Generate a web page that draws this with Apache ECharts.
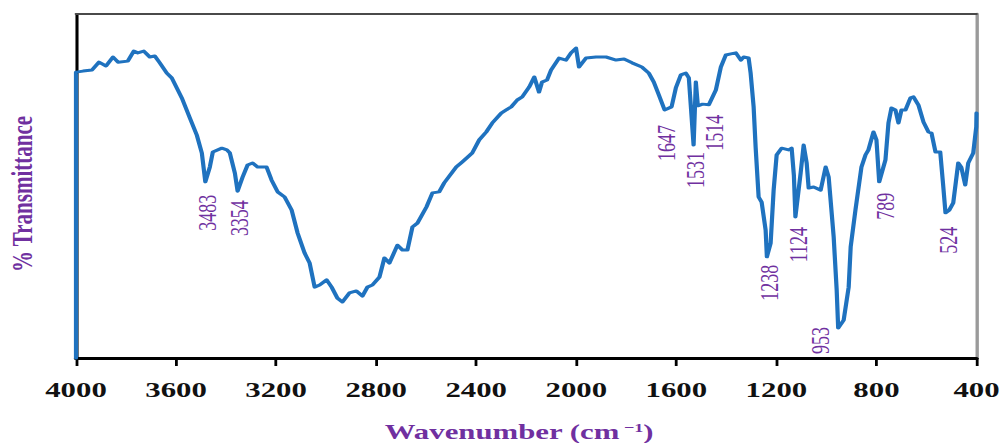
<!DOCTYPE html>
<html>
<head>
<meta charset="utf-8">
<title>FTIR spectrum</title>
<script src="https://cdn.jsdelivr.net/npm/echarts/dist/echarts.min.js"></script>
<style>
  html, body { margin: 0; padding: 0; background: #fff; overflow: hidden; }
  #chart { height: 443px; transform-origin: 0 0; }
</style>
</head>
<body>
<div id="chart"></div>
<script>
// FTIR spectrum: wavenumber (cm-1) against relative transmittance (%)
const wavenumber = [
  4000, 4000, 3972, 3936, 3908, 3880, 3852, 3832, 3793, 3769, 3753, 3729, 3705, 3685, 3665, 3637,
  3617, 3597, 3577, 3545, 3517, 3497, 3483, 3465, 3453, 3417, 3397, 3385, 3365, 3354, 3334, 3314,
  3294, 3274, 3238, 3218, 3194, 3166, 3138, 3114, 3086, 3066, 3046, 3026, 2998, 2978, 2955, 2935,
  2907, 2879, 2855, 2835, 2815, 2787, 2767, 2747, 2715, 2695, 2675, 2655, 2635, 2599, 2575, 2548,
  2528, 2480, 2456, 2416, 2388, 2360, 2336, 2300, 2280, 2260, 2236, 2216, 2188, 2168, 2149, 2137,
  2117, 2101, 2069, 2041, 2021, 2001, 1989, 1961, 1921, 1881, 1841, 1809, 1777, 1738, 1710, 1690,
  1670, 1647, 1619, 1602, 1582, 1562, 1550, 1531, 1522, 1514, 1495, 1470, 1442, 1422, 1402, 1382,
  1362, 1342, 1331, 1311, 1303, 1291, 1283, 1271, 1259, 1243, 1238, 1223, 1211, 1199, 1179, 1151,
  1139, 1130, 1124, 1103, 1091, 1079, 1071, 1051, 1023, 1003, 991, 971, 959, 953, 931, 911,
  903, 884, 860, 844, 832, 812, 800, 789, 764, 752, 740, 724, 712, 700, 684, 664,
  652, 632, 612, 592, 580, 564, 545, 533, 524, 509, 493, 473, 461, 445, 433, 413,
  401, 400
];
const transmittance = [
  0.0, 83.1, 83.4, 83.7, 86.0, 84.9, 87.5, 86.0, 86.3, 89.2, 88.7, 89.2, 87.5, 87.8, 85.8, 82.8,
  81.4, 78.5, 75.6, 69.8, 64.8, 59.6, 51.2, 55.5, 59.9, 61.0, 60.5, 59.6, 53.8, 48.5, 52.6, 56.1,
  56.7, 55.5, 55.5, 51.7, 48.3, 46.8, 43.0, 36.3, 30.5, 27.6, 20.6, 21.2, 22.7, 20.6, 17.4, 16.3,
  18.9, 19.5, 18.0, 20.6, 21.2, 23.5, 29.1, 27.6, 32.8, 31.4, 31.4, 38.1, 39.2, 43.9, 48.0, 48.3,
  50.9, 55.5, 57.0, 59.6, 63.4, 65.7, 68.3, 71.2, 72.1, 73.0, 75.0, 75.9, 78.8, 81.7, 77.3, 80.2,
  80.8, 83.7, 87.2, 86.6, 88.7, 90.1, 84.6, 87.2, 87.5, 87.5, 86.6, 86.9, 85.8, 84.6, 82.8, 80.2,
  76.5, 72.1, 73.0, 78.5, 82.3, 82.8, 81.4, 61.9, 80.2, 73.3, 73.8, 73.6, 77.9, 84.6, 88.1, 88.4,
  88.7, 86.6, 87.5, 87.2, 82.8, 73.0, 61.3, 46.8, 45.3, 37.2, 29.4, 33.4, 48.8, 59.0, 61.0, 60.5,
  61.0, 53.0, 41.0, 53.8, 61.9, 56.7, 49.4, 49.7, 48.8, 55.5, 52.6, 35.2, 19.8, 8.7, 11.0, 20.6,
  32.3, 43.0, 55.5, 59.0, 60.5, 65.7, 63.4, 51.2, 57.6, 68.3, 72.7, 72.1, 68.3, 72.1, 72.1, 75.6,
  75.9, 73.5, 68.6, 65.7, 65.4, 59.9, 59.9, 50.0, 42.2, 43.0, 45.1, 56.7, 55.5, 50.3, 56.7, 59.6,
  67.2, 71.2
];
// Assigned absorption bands (cm-1)
const peaks = [3483, 3354, 1647, 1531, 1514, 1238, 1124, 953, 789, 524];

const xTitle = 'Wavenumber (cm';
const xTitleSup = '\u22121';
const yTitle = '% Transmittance';

// Layout and styling
const S = 1.4; // the figure is drawn with a horizontal stretch
const PURPLE = '#7030a0';
const BLUE = '#1f72bf';
// label offset from each band minimum, screen pixels [dx, dy]
const peakLabelOffset = {
  3483: [2, 13], 3354: [2, 9], 1647: [2, 15], 1531: [2, 7], 1514: [17, 9],
  1238: [2, 8], 1124: [3, 10], 953: [-18, -1], 789: [6, 11], 524: [3, 14]
};

const el = document.getElementById('chart');
el.style.width = (1004 / S) + 'px';
el.style.transform = 'scaleX(' + S + ')';

const chart = echarts.init(el, null, { renderer: 'svg' });

const hiddenAxis = {
  axisTick: { show: false }, axisLabel: { show: false }, splitLine: { show: false }
};
const serif = '"Liberation Serif", serif';

chart.setOption({
  animation: false,
  backgroundColor: '#ffffff',
  grid: { left: 76 / S, right: 26 / S, top: 14, bottom: 85, containLabel: false },
  xAxis: [
    {
      type: 'value', min: 400, max: 4000, interval: 400, inverse: true, position: 'bottom',
      axisLine: { show: true, onZero: false, lineStyle: { color: '#000', width: 3 } },
      axisTick: { show: true, inside: false, length: 8, lineStyle: { color: '#000', width: 2 } },
      axisLabel: {
        margin: 21, color: '#111', fontFamily: serif,
        fontWeight: 'bold', fontSize: 22, showMinLabel: true, showMaxLabel: true,
        formatter: v => String(v)
      },
      splitLine: { show: false }
    },
    Object.assign({
      type: 'value', min: 400, max: 4000, inverse: true, position: 'top',
      axisLine: { show: true, onZero: false, lineStyle: { color: '#4a4a4a', width: 2 } }
    }, hiddenAxis)
  ],
  yAxis: [
    Object.assign({
      type: 'value', min: 0, max: 100, position: 'left',
      axisLine: { show: true, onZero: false, lineStyle: { color: '#000', width: 2.2 } }
    }, hiddenAxis),
    Object.assign({
      type: 'value', min: 0, max: 100, position: 'right',
      axisLine: { show: true, onZero: false, lineStyle: { color: '#9a9a9a', width: 2.4 } }
    }, hiddenAxis)
  ],
  series: [{
    type: 'line',
    xAxisIndex: 0, yAxisIndex: 0,
    data: wavenumber.map((w, i) => [w, transmittance[i]]),
    symbol: 'none',
    clip: false,
    silent: true,
    lineStyle: { color: BLUE, width: 3, join: 'round', cap: 'round' }
  }]
});

// Band labels and axis titles, placed through the axis scales
const labels = peaks.map(w => {
  const i = wavenumber.indexOf(w);
  const p = chart.convertToPixel({ xAxisIndex: 0, yAxisIndex: 0 }, [w, transmittance[i]]);
  const off = peakLabelOffset[w];
  return {
    type: 'text',
    x: p[0] + off[0] / S,
    y: p[1] + off[1],
    rotation: Math.PI / 2,
    z: 10,
    style: {
      text: String(w), align: 'right', verticalAlign: 'middle',
      fontFamily: serif, fontSize: 18, fill: PURPLE
    }
  };
});

labels.push({
  type: 'text',
  x: 22 / S, y: 194,
  rotation: Math.PI / 2,
  style: {
    text: yTitle, align: 'center', verticalAlign: 'middle',
    fontFamily: serif, fontWeight: 'bold', fontSize: 21, fill: PURPLE
  }
});

labels.push({
  type: 'text',
  x: 519 / S, y: 432,
  style: {
    text: '{t|' + xTitle + '}{s|' + xTitleSup + '}{t|)}',
    align: 'center', verticalAlign: 'middle',
    rich: {
      t: { fontFamily: serif, fontWeight: 'bold', fontSize: 22, fill: PURPLE, color: PURPLE },
      s: { fontFamily: serif, fontWeight: 'bold', fontSize: 13, fill: PURPLE, color: PURPLE, verticalAlign: 'top', padding: [0, 0, 0, 3] }
    }
  }
});

chart.setOption({ graphic: labels });
</script>
</body>
</html>
